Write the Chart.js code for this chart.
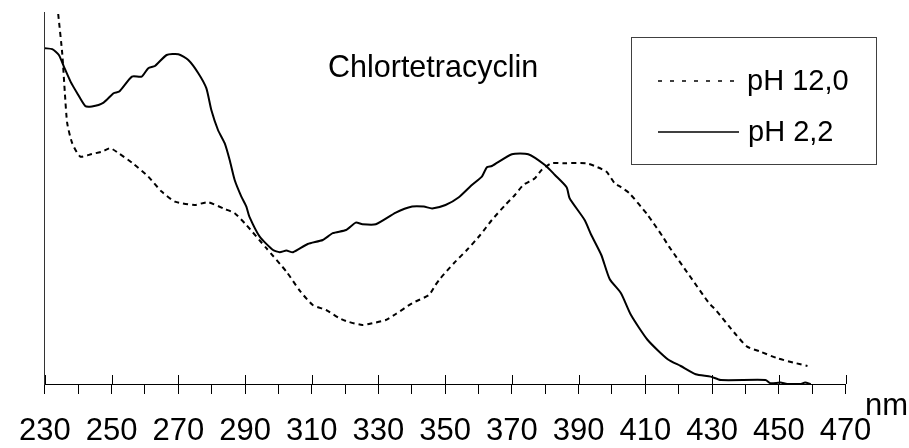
<!DOCTYPE html>
<html lang="de">
<head>
<meta charset="utf-8">
<title>Chlortetracyclin</title>
<script src="https://cdn.jsdelivr.net/npm/chart.js@4.4.1/dist/chart.umd.min.js"></script>
<style>
    html, body { margin: 0; padding: 0; background: #ffffff; }
    #wrap { width: 909px; height: 448px; position: relative; }
</style>
</head>
<body>
<div id="wrap"><canvas id="spektrum"></canvas></div>
<script>
// Wellenlängen (nm) und Extinktion, pH 12,0
const nmPh12 = [
    234.0, 235.2, 236.0, 236.7, 238.2, 240.6, 244.1, 247.1, 249.6, 252.1,
    256.1, 261.0, 265.0, 269.0, 274.9, 278.9, 283.9, 286.9, 290.4, 296.4,
    302.4, 306.4, 310.3, 314.3, 318.3, 320.8, 325.2, 328.2, 332.2, 335.2,
    340.1, 345.1, 347.1, 348.6, 352.6, 356.5, 360.5, 364.0, 368.0, 370.9,
    373.4, 376.9, 378.9, 381.9, 385.8, 392.3, 394.8, 398.3, 400.8, 402.7,
    405.2, 410.7, 415.2, 417.1, 423.1, 429.1, 431.1, 437.0, 440.5, 444.5,
    449.5, 454.4, 458.6
];
const absPh12 = [
    1.850, 1.654, 1.454, 1.304, 1.204, 1.137, 1.150, 1.162, 1.179, 1.154,
    1.107, 1.037, 0.962, 0.912, 0.895, 0.909, 0.875, 0.854, 0.795, 0.679,
    0.562, 0.467, 0.395, 0.370, 0.329, 0.312, 0.295, 0.304, 0.320, 0.350,
    0.404, 0.445, 0.495, 0.529, 0.604, 0.670, 0.745, 0.820, 0.895, 0.945,
    0.995, 1.029, 1.070, 1.104, 1.104, 1.104, 1.090, 1.062, 1.004, 0.984,
    0.954, 0.845, 0.737, 0.687, 0.545, 0.404, 0.370, 0.250, 0.187, 0.162,
    0.129, 0.107, 0.090
];

// Wellenlängen (nm) und Extinktion, pH 2,2
const nmPh2 = [
    230.0, 232.2, 234.2, 235.7, 237.7, 239.7, 242.1, 244.1, 247.6, 250.6,
    252.3, 256.1, 259.0, 261.0, 263.0, 266.5, 270.0, 273.0, 276.0, 278.4,
    279.9, 281.9, 283.9, 285.4, 286.9, 288.9, 290.4, 291.3, 294.4, 298.4,
    300.4, 302.4, 304.4, 308.8, 313.3, 316.3, 320.3, 323.2, 325.2, 329.2,
    335.2, 340.1, 343.6, 346.1, 350.1, 354.1, 358.0, 361.0, 362.5, 364.0,
    370.0, 374.9, 379.9, 382.9, 386.4, 387.3, 391.8, 393.8, 396.8, 399.3,
    402.7, 405.7, 410.7, 416.7, 420.6, 425.1, 429.6, 432.6, 446.0, 447.5,
    450.5, 452.5, 456.4, 457.9, 459.6
];
const absPh2 = [
    1.679, 1.674, 1.645, 1.587, 1.512, 1.454, 1.390, 1.387, 1.407, 1.454,
    1.462, 1.537, 1.537, 1.579, 1.590, 1.645, 1.649, 1.620, 1.554, 1.479,
    1.370, 1.270, 1.204, 1.120, 1.020, 0.937, 0.887, 0.837, 0.737, 0.670,
    0.659, 0.667, 0.659, 0.700, 0.720, 0.754, 0.770, 0.807, 0.799, 0.799,
    0.857, 0.887, 0.887, 0.878, 0.895, 0.934, 0.995, 1.037, 1.084, 1.090,
    1.149, 1.149, 1.095, 1.045, 0.984, 0.929, 0.820, 0.745, 0.645, 0.525,
    0.454, 0.345, 0.220, 0.124, 0.090, 0.049, 0.037, 0.020, 0.020, 0.004,
    0.007, 0.000, 0.000, 0.007, 0.000
];

// Beschriftete Teilstriche der x-Achse
const xTickLabels = [230, 250, 270, 290, 310, 330, 350, 370, 390, 410, 430, 450, 470];

const fontFamily = 'Arial, "Liberation Sans", Helvetica, sans-serif';

// Punkte für die Liniendiagramme zusammensetzen
const toPoints = (xs, ys) => xs.map((x, i) => ({ x: x, y: ys[i] }));

// Titel, Legende, "nm" und die nach oben verlängerten Hauptstriche
const extrasPlugin = {
    id: 'extras',
    afterDraw(chart) {
        const ctx = chart.ctx;
        const xScale = chart.scales.x;
        const axisY = chart.chartArea.bottom;

        ctx.save();
        ctx.strokeStyle = '#000000';
        ctx.lineWidth = 1;
        xScale.ticks.forEach(tick => {
            if (xTickLabels.includes(tick.value)) {
                const px = Math.round(xScale.getPixelForValue(tick.value)) + 0.5;
                ctx.beginPath();
                ctx.moveTo(px, axisY - 9);
                ctx.lineTo(px, axisY);
                ctx.stroke();
            }
        });

        ctx.fillStyle = '#000000';
        ctx.font = '30.5px ' + fontFamily;
        ctx.textBaseline = 'alphabetic';
        ctx.textAlign = 'left';
        ctx.fillText('Chlortetracyclin', 328, 77);

        ctx.font = '31px ' + fontFamily;
        ctx.fillText('nm', 865, 415);

        // Legende
        ctx.strokeStyle = '#404040';
        ctx.lineWidth = 1;
        ctx.strokeRect(631.5, 37.5, 245, 127);

        const ds = chart.data.datasets;
        ctx.strokeStyle = '#000000';
        ctx.lineWidth = 1.5;
        ctx.setLineDash([4, 8]);
        ctx.beginPath();
        ctx.moveTo(658, 81);
        ctx.lineTo(737, 81);
        ctx.stroke();
        ctx.setLineDash([]);
        ctx.beginPath();
        ctx.moveTo(658, 132);
        ctx.lineTo(739, 132);
        ctx.stroke();

        ctx.font = '29px ' + fontFamily;
        ctx.textBaseline = 'middle';
        ctx.fillText(ds[0].label, 747, 82);
        ctx.fillText(ds[1].label, 748, 133);
        ctx.restore();
    }
};

const ctx = document.getElementById('spektrum').getContext('2d');
const spektrumChart = new Chart(ctx, {
    type: 'line',
    data: {
        datasets: [
            {
                label: 'pH 12,0',
                data: toPoints(nmPh12, absPh12),
                borderColor: '#000000',
                borderWidth: 2,
                borderDash: [5, 4],
                pointRadius: 0,
                tension: 0.2,
                fill: false,
            },
            {
                label: 'pH 2,2',
                data: toPoints(nmPh2, absPh2),
                borderColor: '#000000',
                borderWidth: 2,
                pointRadius: 0,
                tension: 0.2,
                fill: false,
            },
        ],
    },
    options: {
        responsive: true,
        maintainAspectRatio: false,
        animation: false,
        events: [],
        layout: {
            padding: { top: 12, right: 63.5, bottom: 0, left: 0 },
        },
        scales: {
            x: {
                type: 'linear',
                min: 230,
                max: 470,
                afterFit: (scale) => { scale.height = 64; },
                border: { display: true, color: '#000000', width: 1 },
                grid: {
                    display: true,
                    drawOnChartArea: false,
                    drawTicks: true,
                    tickLength: 10,
                    color: '#000000',
                },
                ticks: {
                    stepSize: 10,
                    autoSkip: false,
                    maxRotation: 0,
                    padding: 19,
                    color: '#000000',
                    font: { family: fontFamily, size: 31 },
                    callback: (value) => xTickLabels.includes(value) ? String(value) : '',
                },
            },
            y: {
                min: 0,
                max: 1.86,
                afterFit: (scale) => { scale.width = 40; },
                border: { display: true, color: '#333333', width: 1 },
                grid: { display: false },
                ticks: { display: false },
            },
        },
        plugins: {
            legend: { display: false },
            title: { display: false },
            tooltip: { enabled: false },
        },
    },
    plugins: [extrasPlugin],
});
</script>
</body>
</html>
